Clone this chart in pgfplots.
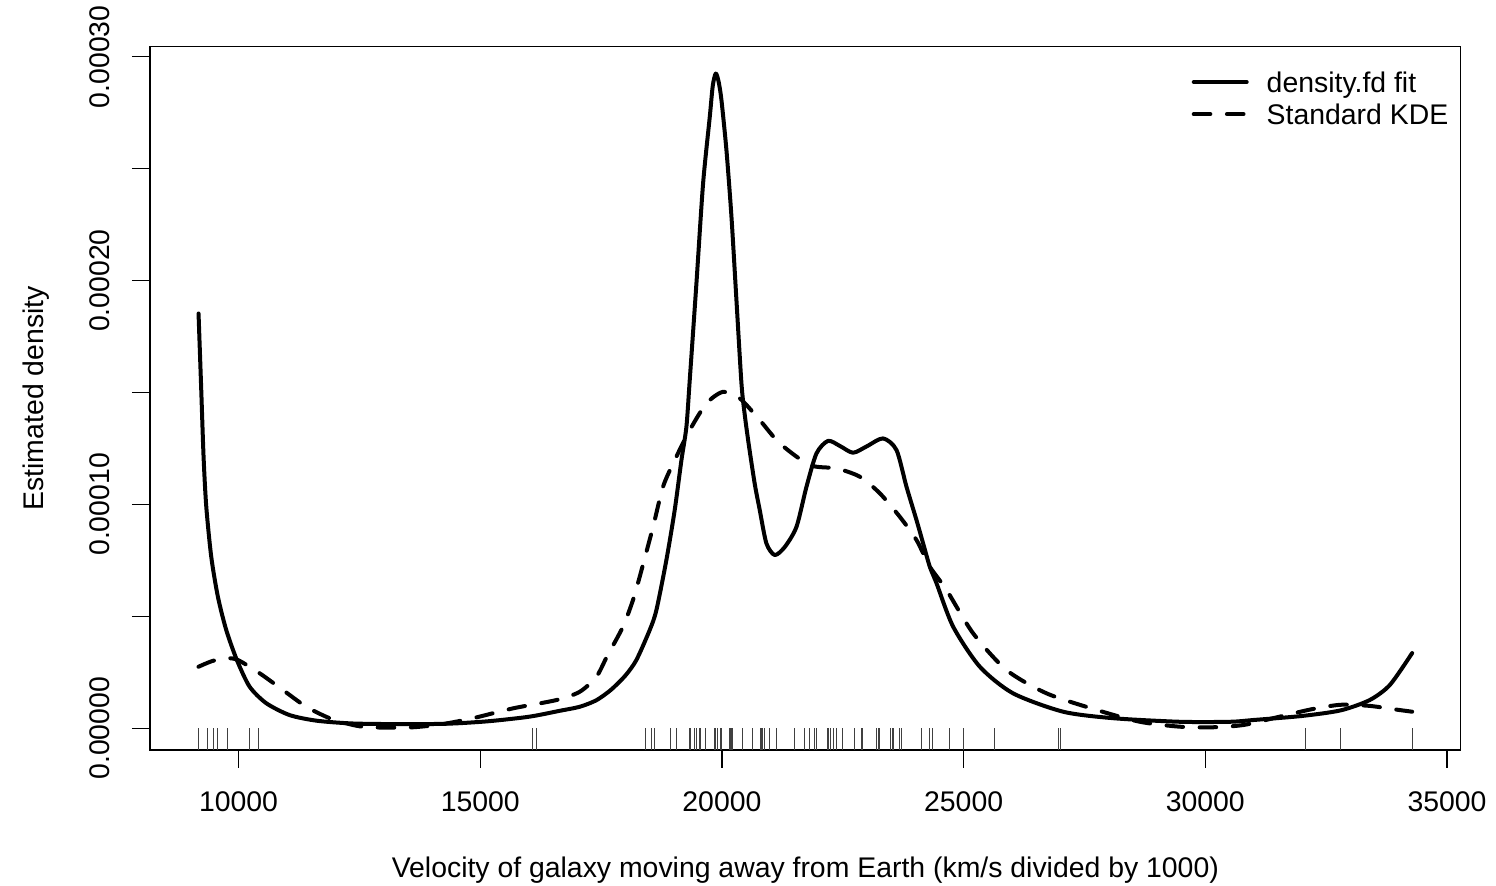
\documentclass[border=0pt]{standalone}
\usepackage{fontspec}
\setmainfont{Liberation Sans}
\usepackage{pgfplots}
\pgfplotsset{compat=1.18}
\begin{document}
\fontsize{14.2}{17}\selectfont
\begin{tikzpicture}
\useasboundingbox (-75pt,-68pt) rectangle (673pt,375pt);
\begin{axis}[
  at={(0pt,0pt)}, anchor=south west,
  scale only axis, width=655.35pt, height=351.65pt,
  xmin=8167.72, xmax=35283.28,
  ymin=-0.0000097, ymax=0.0003045,
  axis line style={line width=0.6pt},
  tick pos=left, tick align=outside, major tick length=9pt,
  every tick/.style={black, line width=0.6pt},
  xtick={10000,15000,20000,25000,30000,35000},
  xticklabels={10000,15000,20000,25000,30000,35000},
  ytick={0,0.00005,0.0001,0.00015,0.0002,0.00025,0.0003},
  yticklabels={0.00000,,0.00010,,0.00020,,0.00030},
  scaled y ticks=false, scaled x ticks=false,
  tick label style={font=\fontsize{14.2}{17}\selectfont},
  xticklabel style={anchor=north, inner sep=11.8pt},
  yticklabel style={rotate=90, anchor=south, inner sep=11pt},
  xlabel={Velocity of galaxy moving away from Earth (km/s divided by 1000)},
  ylabel={Estimated density},
  label style={font=\fontsize{14.2}{17}\selectfont},
  xlabel style={at={(axis description cs:0.5,-0.1820)}, anchor=base, inner sep=0pt},
  ylabel style={at={(axis description cs:-0.08133,0.5)}, rotate=0, anchor=base, inner sep=0pt},
  legend style={draw=none, fill=none, at={(axis description cs:0.7948,0.9645)}, anchor=north west,
    inner sep=0pt, outer sep=0pt, row sep=2.8pt,
    font=\fontsize{14.2}{17}\selectfont,
    nodes={inner sep=0pt, text height=10.3pt, text depth=3pt, anchor=west},
    /tikz/every odd column/.append style={column sep=9pt}},
  legend cell align=left,
  legend image code/.code={\draw[#1] (0pt,1.5pt) -- (26.5pt,1.5pt);},
]
\addplot[black, line width=2pt, line cap=round, line join=round, smooth, tension=0.45] coordinates {
(9172,1.853e-4) (9228,1.511e-4) (9276,1.213e-4) (9332,9.90e-5) (9435,7.66e-5)
(9572,5.88e-5) (9745,4.39e-5) (9965,3.05e-5) (10228,1.86e-5) (10573,1.12e-5)
(11055,5.9e-6) (11608,3.4e-6) (12297,2.2e-6) (13000,1.9e-6) (14000,1.9e-6)
(14505,2.2e-6) (15200,3.2e-6) (16022,5.2e-6) (16643,7.8e-6) (17057,9.6e-6)
(17400,1.25e-5) (17700,1.71e-5) (18000,2.35e-5) (18230,3.05e-5) (18506,4.39e-5)
(18644,5.28e-5) (18851,7.52e-5) (19023,9.75e-5) (19162,1.198e-4) (19265,1.347e-4)
(19334,1.556e-4) (19472,1.987e-4) (19610,2.434e-4) (19748,2.731e-4) (19810,2.87e-4)
(19872,2.925e-4) (19930,2.89e-4) (19990,2.806e-4) (20093,2.583e-4) (20197,2.285e-4)
(20300,1.913e-4) (20404,1.54e-4) (20472,1.40e-4) (20560,1.26e-4) (20680,1.09e-4)
(20782,9.75e-5) (20920,8.26e-5) (21093,7.74e-5) (21300,8.1e-5) (21542,9.0e-5) (21749,1.079e-4)
(21956,1.228e-4) (22196,1.284e-4) (22450,1.26e-4) (22713,1.231e-4) (23000,1.26e-4)
(23334,1.295e-4) (23611,1.243e-4) (23818,1.079e-4) (24025,9.30e-5) (24162,8.26e-5)
(24300,7.22e-5) (24439,6.48e-5) (24783,4.54e-5) (25335,2.75e-5) (26024,1.56e-5)
(27059,7.4e-6) (28094,4.5e-6) (29474,2.9e-6) (30509,2.9e-6) (31000,3.7e-6)
(32000,5.5e-6) (32800,8.0e-6) (33400,1.26e-5) (33820,1.94e-5) (34279,3.36e-5)
};
\addlegendentry{density.fd fit}
\addplot[black, line width=2pt, line cap=round, line join=round, dash pattern=on 8.3pt off 8.3pt, smooth, tension=0.45] coordinates {
(9172,2.75e-5) (9450,3.0e-5) (9745,3.13e-5) (9986,3.05e-5) (10435,2.46e-5)
(10917,1.71e-5) (11401,9.6e-6) (11883,4.5e-6) (12300,1.8e-6) (12573,7e-7)
(13000,3e-7) (13608,4.5e-7) (14200,1.8e-6) (14849,4.5e-6) (15677,8.9e-6)
(16574,1.26e-5) (17057,1.63e-5) (17402,2.30e-5) (17620,3.2e-5) (17953,4.54e-5)
(18160,5.73e-5) (18299,6.77e-5) (18575,9.0e-5) (18781,1.079e-4) (19023,1.198e-4)
(19334,1.332e-4) (19679,1.451e-4) (20023,1.503e-4) (20368,1.474e-4) (20782,1.377e-4)
(21196,1.273e-4) (21817,1.176e-4) (22369,1.161e-4) (22851,1.124e-4) (23265,1.05e-4)
(23679,9.45e-5) (24025,8.41e-5) (24300,7.22e-5) (24646,6.18e-5) (25197,4.24e-5)
(25888,2.60e-5) (26716,1.56e-5) (27750,8.2e-6) (28647,2.9e-6) (29474,7e-7)
(30164,4.5e-7) (30800,1.5e-6) (31500,5.0e-6) (32200,8.5e-6) (32800,1.05e-5)
(33400,1.0e-5) (33900,8.5e-6) (34279,7.4e-6)
};
\addlegendentry{Standard KDE}
\addplot[ycomb, black!75, line width=0.5pt, forget plot] coordinates {
(9172,-0.0000097) (9350,-0.0000097) (9483,-0.0000097) (9558,-0.0000097) (9775,-0.0000097)
(10227,-0.0000097) (10406,-0.0000097) (16084,-0.0000097) (16170,-0.0000097) (18419,-0.0000097)
(18552,-0.0000097) (18600,-0.0000097) (18927,-0.0000097) (19052,-0.0000097) (19070,-0.0000097)
(19330,-0.0000097) (19343,-0.0000097) (19349,-0.0000097) (19440,-0.0000097) (19473,-0.0000097)
(19529,-0.0000097) (19541,-0.0000097) (19547,-0.0000097) (19663,-0.0000097) (19846,-0.0000097)
(19856,-0.0000097) (19863,-0.0000097) (19914,-0.0000097) (19918,-0.0000097) (19973,-0.0000097)
(19989,-0.0000097) (20166,-0.0000097) (20175,-0.0000097) (20179,-0.0000097) (20196,-0.0000097)
(20215,-0.0000097) (20221,-0.0000097) (20415,-0.0000097) (20629,-0.0000097) (20795,-0.0000097)
(20821,-0.0000097) (20846,-0.0000097) (20875,-0.0000097) (20986,-0.0000097) (21137,-0.0000097)
(21492,-0.0000097) (21701,-0.0000097) (21814,-0.0000097) (21921,-0.0000097) (21960,-0.0000097)
(22185,-0.0000097) (22209,-0.0000097) (22242,-0.0000097) (22249,-0.0000097) (22314,-0.0000097)
(22374,-0.0000097) (22495,-0.0000097) (22746,-0.0000097) (22747,-0.0000097) (22888,-0.0000097)
(22914,-0.0000097) (23206,-0.0000097) (23241,-0.0000097) (23263,-0.0000097) (23484,-0.0000097)
(23538,-0.0000097) (23542,-0.0000097) (23666,-0.0000097) (23706,-0.0000097) (23711,-0.0000097)
(24129,-0.0000097) (24285,-0.0000097) (24289,-0.0000097) (24366,-0.0000097) (24717,-0.0000097)
(24990,-0.0000097) (25633,-0.0000097) (26960,-0.0000097) (26995,-0.0000097) (32065,-0.0000097)
(32789,-0.0000097) (34279,-0.0000097)
};
\end{axis}
\end{tikzpicture}
\end{document}
